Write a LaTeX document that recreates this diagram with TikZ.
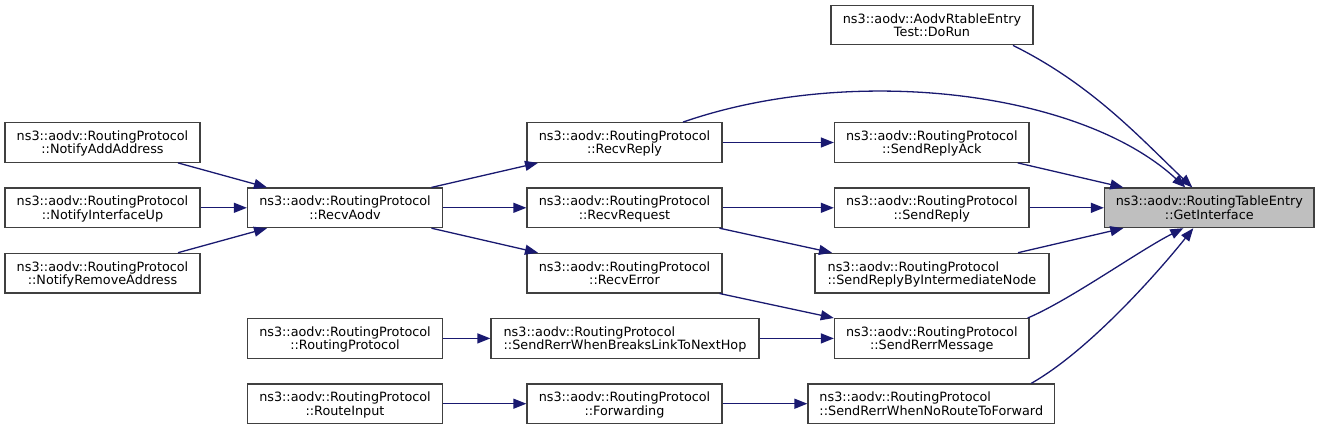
\documentclass[tikz,border=0pt]{standalone}
\usepackage{fontspec}
\setmainfont{DejaVu Sans}
\usetikzlibrary{arrows.meta}
\definecolor{edgeblue}{HTML}{191970}
\definecolor{boxborder}{HTML}{404040}
\definecolor{hilite}{HTML}{BFBFBF}
\begin{document}
\begin{tikzpicture}[x=1pt,y=-1pt,
  box/.style={draw=boxborder, line width=1.3pt, fill=white, rectangle,
    minimum height=39.5pt, inner xsep=0pt, inner ysep=0pt,
    font=\fontsize{12.8}{13.3}\selectfont, align=center,
    text height=22.8pt, text depth=0pt},
  lbox/.style={box, align=left},
  edge/.style={draw=edgeblue, line width=1.3pt,
    -{Triangle[length=13pt,width=10pt]}, fill=none},
]
\useasboundingbox (0,0) rectangle (1320,429);

% column 0
\node[box, minimum width=195pt] (naa) at (102.5,142.5) {ns3::aodv::RoutingProtocol\\::NotifyAddAddress};
\node[box, minimum width=195pt] (niu) at (102.5,207.8) {ns3::aodv::RoutingProtocol\\::NotifyInterfaceUp};
\node[box, minimum width=195pt] (nra) at (102.5,273.1) {ns3::aodv::RoutingProtocol\\::NotifyRemoveAddress};
% column 1
\node[box, minimum width=195pt] (recvaodv) at (345,207.8) {ns3::aodv::RoutingProtocol\\::RecvAodv};
\node[box, minimum width=195pt] (rp) at (345,338.4) {ns3::aodv::RoutingProtocol\\::RoutingProtocol};
\node[box, minimum width=195pt] (routeinput) at (345,403.7) {ns3::aodv::RoutingProtocol\\::RouteInput};
% column 2
\node[box, minimum width=195pt] (recvreply) at (624.5,142.5) {ns3::aodv::RoutingProtocol\\::RecvReply};
\node[box, minimum width=195pt] (recvrequest) at (624.5,207.8) {ns3::aodv::RoutingProtocol\\::RecvRequest};
\node[box, minimum width=195pt] (recverror) at (624.5,273.1) {ns3::aodv::RoutingProtocol\\::RecvError};
\node[lbox, minimum width=268pt] (breaks) at (625,338.4) {ns3::aodv::RoutingProtocol\\::SendRerrWhenBreaksLinkToNextHop};
\node[box, minimum width=195pt] (forwarding) at (624.5,403.7) {ns3::aodv::RoutingProtocol\\::Forwarding};
% column 3
\node[box, minimum width=202pt] (dorun) at (932,25) {ns3::aodv::AodvRtableEntry\\Test::DoRun};
\node[box, minimum width=194.5pt] (sendreplyack) at (931.8,142.5) {ns3::aodv::RoutingProtocol\\::SendReplyAck};
\node[box, minimum width=194.5pt] (sendreply) at (931.8,207.8) {ns3::aodv::RoutingProtocol\\::SendReply};
\node[lbox, minimum width=234pt] (sbin) at (932,273.1) {ns3::aodv::RoutingProtocol\\::SendReplyByIntermediateNode};
\node[box, minimum width=194.5pt] (sendrerrmsg) at (931.8,338.4) {ns3::aodv::RoutingProtocol\\::SendRerrMessage};
\node[lbox, minimum width=246.5pt] (noroute) at (931.3,403.7) {ns3::aodv::RoutingProtocol\\::SendRerrWhenNoRouteToForward};
% column 4
\node[box, fill=hilite, minimum width=209.5pt] (getif) at (1209.3,207.8) {ns3::aodv::RoutingTableEntry\\::GetInterface};

% edges
\draw[edge] ([xshift=75.5pt]naa.south) -- ([xshift=-78pt]recvaodv.north);
\draw[edge] (niu.east) -- (recvaodv.west);
\draw[edge] ([xshift=75.5pt]nra.north) -- ([xshift=-78pt]recvaodv.south);
\draw[edge] ([xshift=86.5pt]recvaodv.north) -- ([xshift=-86.5pt]recvreply.south);
\draw[edge] (recvaodv.east) -- (recvrequest.west);
\draw[edge] ([xshift=86.5pt]recvaodv.south) -- ([xshift=-86.5pt]recverror.north);
\draw[edge] (recvreply.east) -- (sendreplyack.west);
\draw[edge] ([xshift=58.5pt]recvreply.north) .. controls (850,64) and (1080,90) .. ([xshift=-24pt]getif.north);
\draw[edge] ([xshift=81pt]dorun.south) .. controls (1093,85) and (1142,140) .. ([xshift=-17pt]getif.north);
\draw[edge] (recvrequest.east) -- (sendreply.west);
\draw[edge] ([xshift=95pt]recvrequest.south) -- ([xshift=-100pt]sbin.north);
\draw[edge] ([xshift=95pt]recverror.south) -- ([xshift=-98pt]sendrerrmsg.north);
\draw[edge] ([xshift=86pt]sendreplyack.south) -- ([xshift=-86pt]getif.north);
\draw[edge] (sendreply.east) -- (getif.west);
\draw[edge] ([xshift=86pt]sbin.north) -- ([xshift=-86pt]getif.south);
\draw[edge] ([xshift=-2pt]sendrerrmsg.north east) .. controls (1070,300) and (1140,250) .. ([xshift=-26pt]getif.south);
\draw[edge] ([xshift=100pt]noroute.north) .. controls (1090,350) and (1160,270) .. ([xshift=-16pt]getif.south);
\draw[edge] (rp.east) -- (breaks.west);
\draw[edge] (breaks.east) -- (sendrerrmsg.west);
\draw[edge] (routeinput.east) -- (forwarding.west);
\draw[edge] (forwarding.east) -- (noroute.west);
\end{tikzpicture}
\end{document}
